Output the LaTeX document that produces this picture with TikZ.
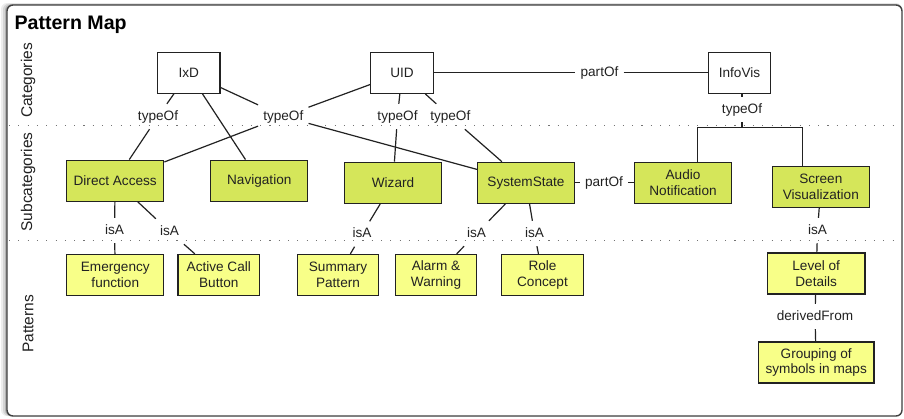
\documentclass[tikz,border=0pt]{standalone}
\usepackage{fontspec}
\setmainfont{Liberation Sans}
\usepackage{tikz}
\usetikzlibrary{positioning}
\definecolor{subgreen}{HTML}{D5E65A}
\definecolor{patyellow}{HTML}{F8FF88}
\definecolor{inkgray}{HTML}{222222}
\tikzset{catbox/.style={rectangle,draw=inkgray,line width=1.3pt,fill=white,minimum width=62.5pt,minimum height=41pt,inner sep=2pt,align=center},
	 subbox/.style={catbox,fill=subgreen,minimum width=97pt},
	 patbox/.style={catbox,fill=patyellow,minimum width=81.5pt},
	 rel/.style={inner xsep=5pt,inner ysep=6pt,text height=10pt,text depth=3pt},
	 lane/.style={rotate=90,font=\fontsize{15.5}{17}\selectfont},
	 link/.style={line width=1.2pt,draw=inkgray},
	 sep/.style={draw=black!55,line width=1.1pt,dash pattern=on 1.1pt off 8.2pt},
	 node distance = 1
	 }

\begin{document}
\begin{tikzpicture}[x=1pt,y=-1pt,font=\fontsize{13.6}{15.8}\selectfont,text=inkgray] % pattern map
	\useasboundingbox (0,0) rectangle (904,418);
	% frame with a soft shade on the left
	\foreach \d/\o in {6/0.07,4/0.1,2/0.16}
		\fill[black,opacity=\o,rounded corners=6pt] (7-\d,5-\d/3) rectangle (902,416);
	\draw[fill=white,draw=black!75,line width=1.4pt,rounded corners=6pt] (7,5) rectangle (902,416);
	\node[anchor=base west,font=\fontsize{19.6}{22}\selectfont\bfseries,text=black] (title) at (11,29) {Pattern Map};
	% lanes
	\draw[sep] (9,125.5) -- (900,125.5);
	\draw[sep] (9,240.5) -- (900,240.5);
	\node[lane] (lcat) at (28,80.5) {Categories};
	\node[lane] (lsub) at (28,182) {Subcategories};
	\node[lane] (lpat) at (28,324) {Patterns};
	% categories
	\node[catbox] (ixd) at (188.7,72.8) {IxD};
	\node[catbox] (uid) at (402,72.8) {UID};
	\node[catbox] (infovis) at (739.5,72.8) {InfoVis};
	% subcategories
	\node[subbox] (dacc) at (115.2,180.7) {Direct Access};
	\node[subbox] (navi) at (259.3,180.7) {Navigation};
	\node[subbox] (wiz) at (393,182.8) {Wizard};
	\node[subbox] (sysst) at (526,182.8) {SystemState};
	\node[subbox] (audio) at (683,182.8) {Audio\\Notification};
	\node[subbox] (screen) at (820.8,187) {Screen\\Visualization};
	% patterns
	\node[patbox,minimum width=97pt] (emerg) at (115.3,275) {Emergency\\function};
	\node[patbox] (acall) at (218.8,275) {Active Call\\Button};
	\node[patbox] (summ) at (338,275) {Summary\\Pattern};
	\node[patbox] (alarm) at (436,275) {Alarm \&\\Warning};
	\node[patbox] (role) at (542.5,275) {Role\\Concept};
	\node[patbox,minimum width=97.7pt] (lod) at (816.2,273.5) {Level of\\Details};
	\node[patbox,minimum width=115.7pt] (group) at (816.2,362.5) {Grouping of\\symbols in maps};
	% relation labels
	\node[rel] (t1) at (158,116.5) {typeOf};
	\node[rel] (t2) at (283.3,116.5) {typeOf};
	\node[rel] (t3) at (397.5,116.5) {typeOf};
	\node[rel] (t4) at (450.3,116.5) {typeOf};
	\node[rel] (t5) at (742,109.5) {typeOf};
	\node[rel] (p1) at (599.5,72.8) {partOf};
	\node[rel] (p2) at (604,182.8) {partOf};
	\node[rel] (i1) at (114.5,230.5) {isA};
	\node[rel] (i2) at (169.5,231.5) {isA};
	\node[rel] (i3) at (362,234) {isA};
	\node[rel] (i4) at (476.5,233.5) {isA};
	\node[rel] (i5) at (534.5,233.5) {isA};
	\node[rel] (i6) at (817.5,230.5) {isA};
	\node[rel] (d1) at (815,316.5) {derivedFrom};
	\coordinate (fork) at (742,127.3);
	% connectors
	\draw[link] (ixd) to (t1) to (dacc);
	\draw[link] (ixd) to (navi);
	\draw[link] (ixd) to (t2) to (sysst);
	\draw[link] (uid) to (t2) to (dacc);
	\draw[link] (uid) to (t3) to (wiz);
	\draw[link] (uid) to (t4) to (sysst);
	\draw[link] (uid) to (p1) to (infovis);
	\draw[link] (sysst) to (p2) to (audio);
	\draw[link] (t5) -- (t5 |- infovis.south);
	\draw[link] (t5) -- (fork);
	\draw[link] ([xshift=14.3pt]audio.north) |- (fork) -| ([xshift=-18pt]screen.north);
	\draw[link] (dacc) to (i1) to (emerg);
	\draw[link] (dacc) to (i2) to (acall);
	\draw[link] (wiz) to (i3) to (summ);
	\draw[link] (sysst) to (i4) to (alarm);
	\draw[link] (sysst) to (i5) to (role);
	\draw[link] (screen) to (i6) to (lod);
	\draw[link] (lod) to (d1) to (group);
\end{tikzpicture}
\end{document}
